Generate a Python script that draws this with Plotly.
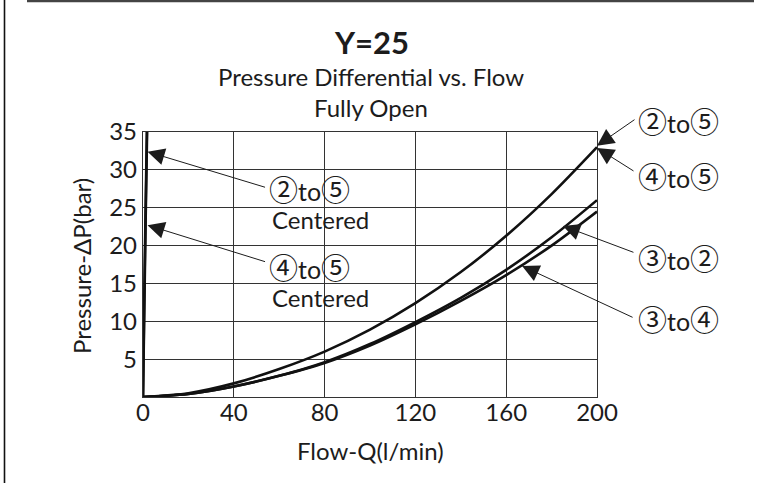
import plotly.graph_objects as go

# ---- data ----
flow = [0, 20, 40, 60, 80, 100, 120, 140, 160, 180, 200]
dp_2to5 = [0, 0.5, 1.8, 3.7, 6.0, 8.9, 12.4, 16.5, 21.3, 26.8, 33.0]
dp_3to2 = [0, 0.4, 1.4, 2.8, 4.6, 7.0, 9.9, 13.1, 16.8, 21.1, 26.0]
dp_3to4 = [0, 0.4, 1.4, 2.8, 4.5, 6.8, 9.6, 12.7, 16.1, 20.0, 24.5]

flow_c25 = [0, 0.6, 1.2, 1.8]
dp_c25 = [0, 12, 24, 35]
flow_c45 = [0, 0.5, 1.1, 1.7]
dp_c45 = [0, 12, 24, 35]

x_ticks = [0, 40, 80, 120, 160, 200]
y_ticks = [5, 10, 15, 20, 25, 30, 35]

title_main = "Y=25"
title_sub1 = "Pressure Differential vs. Flow"
title_sub2 = "Fully Open"
x_title = "Flow-Q(l/min)"
y_title = "Pressure-ΔP(bar)"

# callouts: (from port, to port, tip x, tip y)
callouts_right = [
    ("②", "⑤", 200, 33.2),
    ("④", "⑤", 200, 32.9),
    ("③", "②", 185, 22.6),
    ("③", "④", 167, 17.3),
]
callouts_left = [
    ("②", "⑤", 2.0, 32.4),
    ("④", "⑤", 2.0, 22.7),
]
centered_word = "Centered"

# ---- geometry (screen pixels of the reference) ----
W, H = 767, 483
X0, X1, Y0, Y1 = 143, 597, 397, 132   # plot area in screen px
L, T, R, B = X0, Y1, W - X1, H - Y0
PW, PH = X1 - X0, Y0 - Y1


def px(xs):
    return (xs - X0) / PW


def py(ys):
    return (Y0 - ys) / PH


FONT = "Lato, 'Noto Sans', sans-serif"
CIRC = "font-family:'Noto Sans CJK JP';font-size:29px"
INK = "#1c1c1c"


def circ(s):
    return f"<span style=\"{CIRC}\">{s}</span>"


fig = go.Figure()

line_style = dict(color="#111111", width=2.6)
for xs, ys in [(flow, dp_2to5), (flow, dp_3to2), (flow, dp_3to4),
               (flow_c25, dp_c25), (flow_c45, dp_c45)]:
    fig.add_trace(go.Scatter(x=xs, y=ys, mode="lines",
                             line=dict(shape="spline", smoothing=0.8, **line_style),
                             hoverinfo="skip", showlegend=False))

ann = []


def text_ann(text, xs, ys, size=24, xanchor="center", angle=0, align="center"):
    ann.append(dict(text=text, x=px(xs), y=py(ys), xref="paper", yref="paper",
                    xanchor=xanchor, yanchor="middle", textangle=angle, align=align,
                    showarrow=False, font=dict(size=size, color=INK, family=FONT)))


# titles
text_ann(f"<b>{title_main}</b>", 371, 42, size=31)
text_ann(title_sub1, 371, 76)
text_ann(title_sub2, 371, 107)
# axis titles
text_ann(x_title, 370, 450)
text_ann(y_title, 81, 266, angle=-90)


def arrow(xt, yt, ax, ay):
    ann.append(dict(x=xt, y=yt, xref="x", yref="y", text="", showarrow=True,
                    ax=ax, ay=ay, arrowhead=2, arrowsize=3.4, arrowwidth=1.0,
                    arrowcolor=INK, standoff=0))


arrow_offsets_right = [(39, -27), (38, 24), (72, 27), (112, 52)]
label_y_right = [120, 175, 257, 318]
for (a, b, xt, yt), (ax, ay), ly in zip(callouts_right, arrow_offsets_right, label_y_right):
    arrow(xt, yt, ax, ay)
    text_ann(f"{circ(a)}to{circ(b)}", 636, ly, size=25, xanchor="left")

arrow_offsets_left = [(119, 36), (119, 37)]
label_y_left = [188, 266]
for (a, b, xt, yt), (ax, ay), ly in zip(callouts_left, arrow_offsets_left, label_y_left):
    arrow(xt, yt, ax, ay)
    text_ann(f"{circ(a)}to{circ(b)}", 267, ly, size=25, xanchor="left")
    text_ann(centered_word, 270, ly + 31, size=24, xanchor="left")

shapes = [
    dict(type="line", xref="paper", yref="paper", x0=px(4.5), x1=px(4.5), y0=py(0), y1=py(483),
         line=dict(color="#111111", width=1.6)),
    dict(type="line", xref="paper", yref="paper", x0=px(27), x1=px(754), y0=py(1), y1=py(1),
         line=dict(color="#444444", width=2.5)),
]

grid = dict(showgrid=True, gridcolor="#333333", gridwidth=1.4, showline=True,
            linecolor="#333333", linewidth=1.4, mirror=True, zeroline=False,
            ticks="", tickfont=dict(size=24, color=INK, family=FONT))

fig.update_layout(
    width=W, height=H, margin=dict(l=L, r=R, t=T, b=B, pad=0, autoexpand=False),
    paper_bgcolor="white", plot_bgcolor="white",
    xaxis=dict(range=[0, 200], tickvals=x_ticks, ticktext=[str(v) for v in x_ticks],
               ticklabelstandoff=-6, **grid),
    yaxis=dict(range=[0, 35], tickvals=y_ticks, ticktext=[str(v) for v in y_ticks], **grid),
    annotations=ann, shapes=shapes, showlegend=False,
)

fig.write_html("out.html", config={"displayModeBar": False},
               post_script="document.body.style.margin='0';")
